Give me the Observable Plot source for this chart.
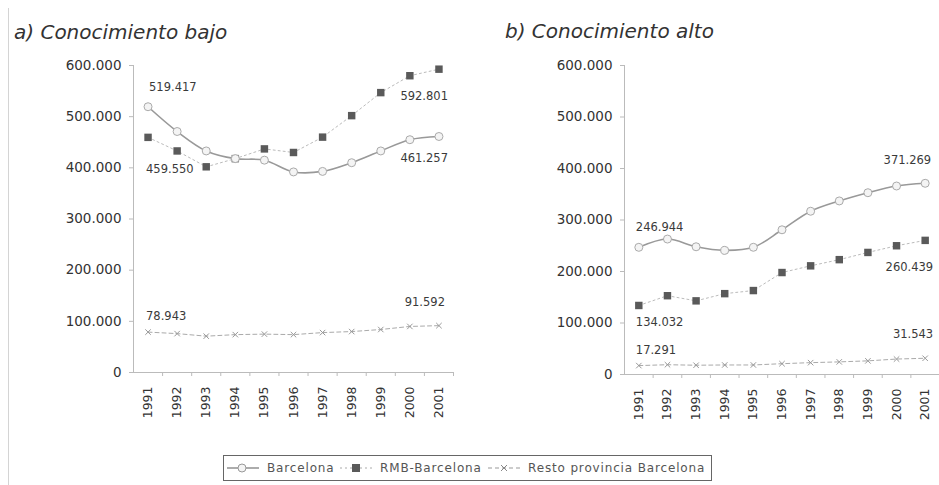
<!DOCTYPE html>
<html>
<head>
<meta charset="utf-8">
<script src="https://cdn.jsdelivr.net/npm/d3@7"></script>
<script src="https://cdn.jsdelivr.net/npm/@observablehq/plot@0.6"></script>
<style>
  html, body { margin: 0; padding: 0; background: #fff; }
  #wrap { position: relative; width: 939px; height: 485px; overflow: hidden; font-family: "DejaVu Sans", "Liberation Sans", Arial, sans-serif; }
  .title { position: absolute; font-style: italic; font-size: 20px; color: #333; white-space: nowrap; }
  .panel { position: absolute; top: 0; }
  #frame { position: absolute; left: 8px; top: 8px; width: 0; height: 477px; border-left: 1px solid #d4d4d4; }
  #legend { position: absolute; left: 223px; top: 455px; width: 489px; height: 26px; border: 1px solid #666; box-sizing: border-box;
            font-size: 12px; color: #555; letter-spacing: 0.85px; white-space: nowrap; }
  #legend .item { position: absolute; top: 0; height: 24px; display: flex; align-items: center; }
  #legend svg { margin-right: 8px; }
</style>
</head>
<body>
<div id="wrap">
  <div id="frame"></div>
  <div class="title" style="left:14px; top:20px;">a) Conocimiento bajo</div>
  <div class="title" style="left:505px; top:19px;">b) Conocimiento alto</div>
  <div class="panel" id="left" style="left:0px;"></div>
  <div class="panel" id="right" style="left:470px;"></div>
  <div id="legend"></div>
</div>
<script>
// ---- data ----
const years = [1991, 1992, 1993, 1994, 1995, 1996, 1997, 1998, 1999, 2000, 2001];
const seriesNames = ["Barcelona", "RMB-Barcelona", "Resto provincia Barcelona"];
const yTicks = [0, 100000, 200000, 300000, 400000, 500000, 600000];

// a) Conocimiento bajo
const bajoBarcelona = [519417, 471000, 433000, 418000, 415000, 392000, 393000, 410000, 433000, 455000, 461257];
const bajoRMB       = [459550, 433000, 402000, 418000, 437000, 430000, 460000, 502000, 547000, 580000, 592801];
const bajoResto     = [78943, 76000, 71000, 74000, 75000, 74000, 78000, 80000, 84000, 90000, 91592];

// b) Conocimiento alto
const altoBarcelona = [246944, 263000, 248000, 241000, 247000, 281000, 317000, 337000, 353000, 366000, 371269];
const altoRMB       = [134032, 153000, 143000, 157000, 163000, 198000, 211000, 223000, 237000, 250000, 260439];
const altoResto     = [17291, 19000, 18000, 18500, 18500, 21000, 23000, 24500, 26500, 30000, 31543];

// ---- helpers ----
const loc = d3.formatLocale({decimal: ",", thousands: ".", grouping: [3], currency: ["", ""]});
const fmt = loc.format(",d");
const FONT = "'DejaVu Sans', 'Liberation Sans', Arial, sans-serif";

function rows(arr, name) { return arr.map((v, i) => ({year: years[i], value: v, series: name})); }

function panel(bar, rmb, resto, cfg) {
  const dB = rows(bar, seriesNames[0]);
  const dR = rows(rmb, seriesNames[1]);
  const dX = rows(resto, seriesNames[2]);
  const first = d => d[0], last = d => d[d.length - 1];
  // end-point value labels: [datum, dx, dy, anchor]
  const lab = [
    [first(dB), ...cfg.lb[0]], [last(dB), ...cfg.lb[1]],
    [first(dR), ...cfg.lb[2]], [last(dR), ...cfg.lb[3]],
    [first(dX), ...cfg.lb[4]], [last(dX), ...cfg.lb[5]]
  ];
  const labelMarks = lab.map(([d, dx, dy, anchor]) =>
    Plot.text([d], {x: "year", y: "value", text: d => fmt(d.value), dx, dy, textAnchor: anchor,
                    fontSize: 11.5, fill: "#3a3a3a"}));
  return Plot.plot({
    width: cfg.width, height: 430,
    marginLeft: cfg.ml, marginRight: cfg.mr, marginTop: 65, marginBottom: cfg.mb,
    style: {fontFamily: FONT, fontSize: "13px", color: "#444", background: "transparent", overflow: "visible"},
    x: {domain: [years[0] - 0.5, years[years.length - 1] + 0.5], axis: null},
    y: {domain: [0, 600000], axis: null},
    marks: [
      Plot.axisY({ticks: yTicks, tickFormat: fmt, tickSize: 4, tickPadding: 8, stroke: "#bbb", fill: "#333", fontSize: 13.5, label: null}),
      Plot.axisX({ticks: years, tickFormat: d => String(d), tickSize: 0, tickPadding: 14, tickRotate: -90, fill: "#333", fontSize: 12.5, label: null}),
      Plot.axisX({ticks: years.map(y => y + 0.5), tickFormat: () => "", tickSize: 4, stroke: "#bbb", label: null}),
      Plot.ruleY([0], {stroke: "#bbb"}),
      Plot.ruleX([years[0] - 0.5], {stroke: "#bbb"}),
      Plot.line(dX, {x: "year", y: "value", stroke: "#aaa", strokeWidth: 1, strokeDasharray: "4,3"}),
      Plot.line(dR, {x: "year", y: "value", stroke: "#bbb", strokeWidth: 1, strokeDasharray: "2,3"}),
      Plot.line(dB, {x: "year", y: "value", stroke: "#999", strokeWidth: 1.6, curve: "catmull-rom"}),
      Plot.dot(dX, {x: "year", y: "value", symbol: "times", r: 2.6, stroke: "#999", strokeWidth: 1}),
      Plot.dot(dR, {x: "year", y: "value", symbol: "square", r: 4.2, fill: "#5a5a5a", stroke: "none"}),
      Plot.dot(dB, {x: "year", y: "value", symbol: "circle", r: 4, fill: "#f4f4f4", stroke: "#aaa", strokeWidth: 1}),
      ...labelMarks
    ]
  });
}

document.getElementById("left").appendChild(panel(bajoBarcelona, bajoRMB, bajoResto, {
  width: 470, ml: 133, mr: 17, mb: 58,
  lb: [[1, -19, "start"], [9, 22, "end"], [-2, 32, "start"], [9, 27, "end"], [-2, -16, "start"], [6, -23, "end"]]
}));
document.getElementById("right").appendChild(panel(altoBarcelona, altoRMB, altoResto, {
  width: 469, ml: 154, mr: 0, mb: 56,
  lb: [[-3, -20, "start"], [6, -23, "end"], [-3, 17, "start"], [8, 27, "end"], [-3, -15, "start"], [8, -24, "end"]]
}));

// ---- legend ----
const legend = document.getElementById("legend");
const itemLeft = [3, 116, 264];
const swatches = [
  `<svg width="32" height="12"><line x1="0" y1="6" x2="32" y2="6" stroke="#888" stroke-width="1.4"/><circle cx="15" cy="6" r="4" fill="#f4f4f4" stroke="#999"/></svg>`,
  `<svg width="32" height="12"><line x1="0" y1="6" x2="32" y2="6" stroke="#aaa" stroke-dasharray="2,3"/><rect x="12" y="2" width="8" height="8" fill="#5a5a5a"/></svg>`,
  `<svg width="32" height="12"><line x1="0" y1="6" x2="32" y2="6" stroke="#999" stroke-dasharray="4,3"/><path d="M13,3L19,9M19,3L13,9" stroke="#888"/></svg>`
];
seriesNames.forEach((name, i) => {
  const it = document.createElement("div");
  it.className = "item";
  it.style.left = itemLeft[i] + "px";
  it.innerHTML = swatches[i] + `<span>${name}</span>`;
  legend.appendChild(it);
});
</script>
</body>
</html>
